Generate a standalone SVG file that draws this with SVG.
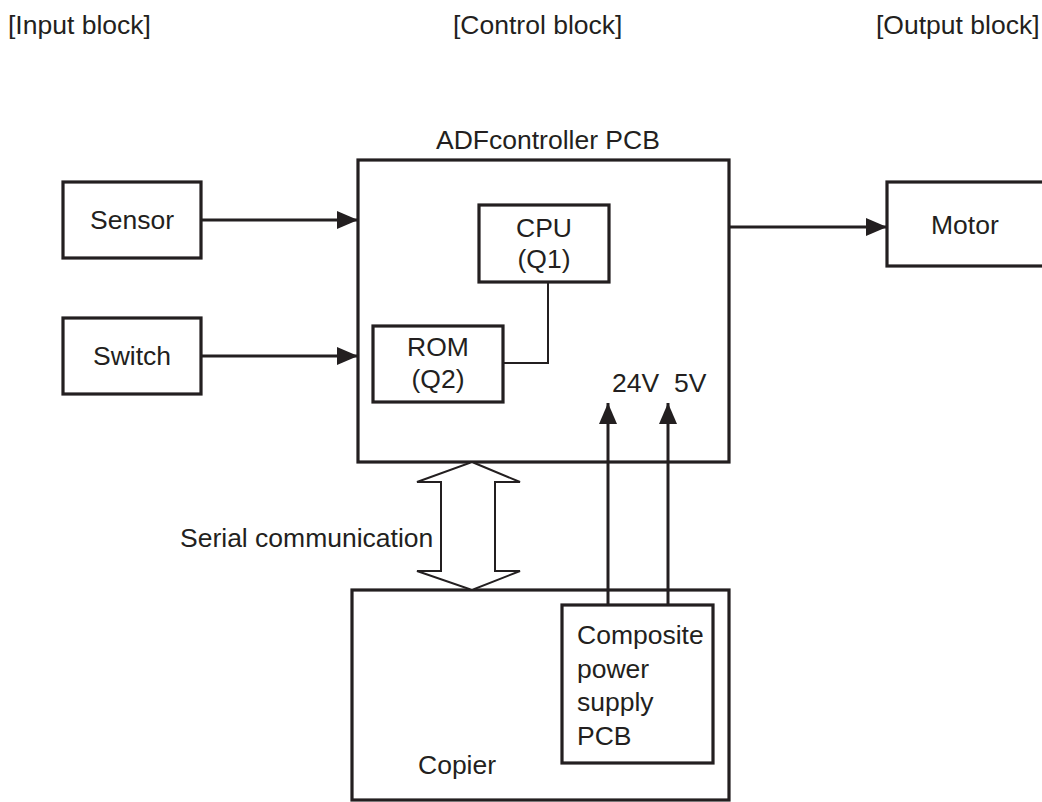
<svg xmlns="http://www.w3.org/2000/svg" width="1042" height="802" viewBox="0 0 1042 802">
<style>
text{font-family:"Liberation Sans",Arial,sans-serif;font-size:26.5px;fill:#231f20}
.box{fill:#fff;stroke:#231f20;stroke-width:3.2}
.ln{fill:none;stroke:#231f20;stroke-width:3}
.thin{fill:none;stroke:#231f20;stroke-width:2}
.mid{text-anchor:middle}
</style>
<defs>
<marker id="ah" markerUnits="userSpaceOnUse" markerWidth="22" markerHeight="18" refX="21" refY="9" orient="auto">
<path d="M0,0 L21,9 L0,18 Z" fill="#231f20"/>
</marker>
</defs>
<rect width="1042" height="802" fill="#fff"/>
<g id="headers">
<text x="8" y="34">[Input block]</text>
<text x="453" y="34">[Control block]</text>
<text x="876" y="34">[Output block]</text>
</g>
<g id="adf">
<text x="436" y="149">ADFcontroller PCB</text>
<rect class="box" x="358" y="160" width="371" height="302"/>
</g>
<g id="copier">
<rect class="box" x="352" y="590" width="377" height="210"/>
<text x="418" y="774">Copier</text>
</g>
<g id="cpu">
<rect class="box" x="479" y="205" width="130" height="77"/>
<text class="mid" x="544" y="237">CPU</text>
<text class="mid" x="544" y="268">(Q1)</text>
</g>
<g id="rom">
<rect class="box" x="373" y="326" width="130" height="76"/>
<text class="mid" x="438" y="356">ROM</text>
<text class="mid" x="438" y="388">(Q2)</text>
</g>
<g id="sensor">
<rect class="box" x="63" y="182" width="138" height="76"/>
<text class="mid" x="132" y="229">Sensor</text>
</g>
<g id="switch">
<rect class="box" x="63" y="318" width="138" height="76"/>
<text class="mid" x="132" y="365">Switch</text>
</g>
<g id="motor">
<rect class="box" x="887" y="182" width="200" height="84"/>
<text x="931" y="234">Motor</text>
</g>
<g id="psu">
<rect class="box" x="562" y="605" width="151" height="158"/>
<text x="577" y="644">Composite</text>
<text x="577" y="678">power</text>
<text x="577" y="711">supply</text>
<text x="577" y="745">PCB</text>
</g>
<g id="labels">
<text x="612" y="392">24V</text>
<text x="674" y="392">5V</text>
<text x="180" y="547">Serial communication</text>
</g>
<g id="connectors">
<line class="ln" x1="201" y1="220" x2="358" y2="220" marker-end="url(#ah)"/>
<line class="ln" x1="201" y1="356" x2="358" y2="356" marker-end="url(#ah)"/>
<line class="ln" x1="729" y1="227" x2="887" y2="227" marker-end="url(#ah)"/>
<polyline class="thin" points="548,282 548,363 503,363"/>
<line class="ln" x1="608" y1="605" x2="608" y2="403" marker-end="url(#ah)"/>
<line class="ln" x1="668" y1="605" x2="668" y2="403" marker-end="url(#ah)"/>
<path class="thin" d="M472,462 L520,482 L495,482 L495,571 L520,571 L472,590 L417,571 L441,571 L441,482 L417,482 Z" style="fill:#fff"/>
</g>
</svg>
